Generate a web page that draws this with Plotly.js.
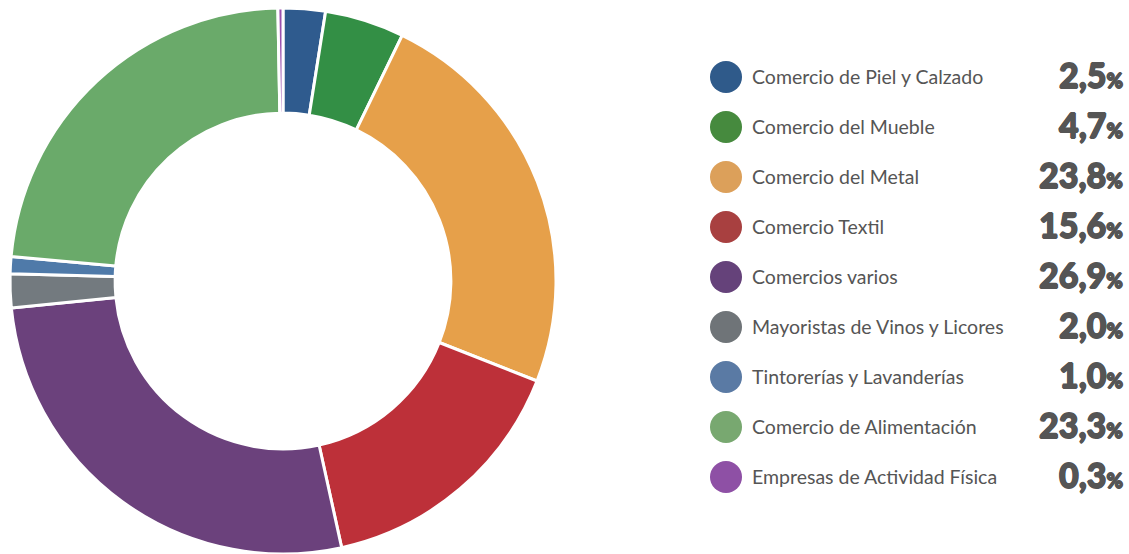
<!DOCTYPE html>
<html>
<head>
<meta charset="utf-8">
<script src="https://cdn.plot.ly/plotly-3.0.1.min.js"></script>
<style>html,body{margin:0;padding:0;background:#fff;}#chart{width:1129px;height:554px;}</style>
</head>
<body>
<div id="chart"></div>
<script>
const categories = ["Comercio de Piel y Calzado","Comercio del Mueble","Comercio del Metal","Comercio Textil","Comercios varios","Mayoristas de Vinos y Licores","Tintorerías y Lavanderías","Comercio de Alimentación","Empresas de Actividad Física"];
const values = [2.5, 4.7, 23.8, 15.6, 26.9, 2.0, 1.0, 23.3, 0.3];
const valueLabels = ["2,5","4,7","23,8","15,6","26,9","2,0","1,0","23,3","0,3"];
const sliceColors = ["#2f5b8e","#338f45","#e6a04a","#bd3039","#6b417c","#737a7f","#4f7aa9","#6aaa6a","#9b4fae"];
const dotColors = ["#2f5a8a","#468a3e","#dca05a","#a84040","#65427a","#6f7478","#5a7aa4","#78a870","#8e50a5"];

const W = 1129, H = 554;
const legendX = 726, legendY0 = 77, legendStep = 50;
const legendYs = categories.map((c,i)=>legendY0 + legendStep*i);

const pie = {
  type: 'pie',
  values: values,
  labels: categories,
  marker: {colors: sliceColors, line: {color: '#ffffff', width: 3}},
  hole: 0.615,
  sort: false,
  direction: 'clockwise',
  rotation: 0,
  textinfo: 'none',
  hoverinfo: 'label+percent',
  showlegend: false,
  domain: {x: [10/W, 556/W], y: [0/H, 546/H]}
};

const dots = {
  type: 'scatter',
  mode: 'markers',
  x: categories.map(()=>legendX),
  y: legendYs,
  marker: {size: 32, color: dotColors},
  hoverinfo: 'skip',
  showlegend: false,
  xaxis: 'x', yaxis: 'y'
};

const heavy = '0.8px 0 0 #555555, -0.8px 0 0 #555555, 0 0.6px 0 #555555, 0 -0.6px 0 #555555';
const annotations = [];
categories.forEach((c,i)=>{
  annotations.push({
    x: 750, y: legendYs[i]-1, xref: 'x', yref: 'y',
    text: c, showarrow: false, xanchor: 'left', yanchor: 'middle',
    font: {family: 'Lato', size: 19.5, color: '#555555'}
  });
  annotations.push({
    x: 1125, y: legendYs[i]-3, xref: 'x', yref: 'y',
    text: valueLabels[i] + '<span style="font-size:20px">%</span>', showarrow: false, xanchor: 'right', yanchor: 'middle',
    font: {family: 'Lato', size: 34, color: '#555555', weight: 900, shadow: heavy}
  });
});

const layout = {
  width: W, height: H,
  margin: {l:0, r:0, t:0, b:0},
  paper_bgcolor: '#ffffff', plot_bgcolor: 'rgba(0,0,0,0)',
  xaxis: {range: [0, W], visible: false, fixedrange: true, domain: [0,1]},
  yaxis: {range: [H, 0], visible: false, fixedrange: true, domain: [0,1]},
  annotations: annotations,
  showlegend: false
};

Plotly.newPlot('chart', [pie, dots], layout, {displayModeBar: false, staticPlot: true});
</script>
</body>
</html>
